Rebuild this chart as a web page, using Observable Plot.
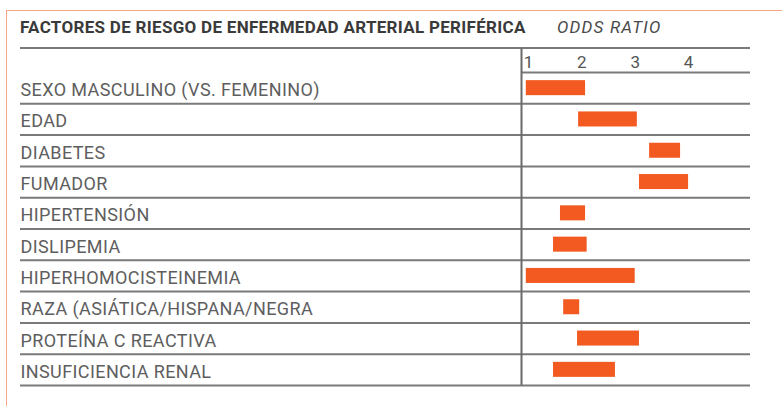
<!DOCTYPE html>
<html>
<head>
<meta charset="utf-8">
<script src="https://cdn.jsdelivr.net/npm/d3@7"></script>
<script src="https://cdn.jsdelivr.net/npm/@observablehq/plot@0.6"></script>
<style>
  html, body { margin: 0; padding: 0; background: #fff; }
  #wrap { position: relative; width: 782px; height: 406px; overflow: hidden; background: #fff; font-family: Roboto, "Noto Sans", sans-serif; }
  #border { position: absolute; left: 6px; top: 10px; width: 800px; height: 420px; border-top: 1.5px solid #f5a585; border-left: 1.5px solid #f5a585; }
  #title { position: absolute; left: 20px; top: 17px; font-weight: bold; font-size: 17px; line-height: 20px; color: #3a3a3a; white-space: nowrap; letter-spacing: 0.3px; }
  #odds { position: absolute; left: 557px; top: 17px; font-style: italic; font-size: 17px; line-height: 20px; color: #4a4a4a; white-space: nowrap; letter-spacing: 1.2px; }
  #hline { position: absolute; left: 20px; top: 47px; width: 730px; border-top: 2px solid #7a7a7a; }
  #chart { position: absolute; left: 0; top: 48px; }
</style>
</head>
<body>
<div id="wrap">
  <div id="border"></div>
  <div id="title">FACTORES DE RIESGO DE ENFERMEDAD ARTERIAL PERIFÉRICA</div>
  <div id="odds">ODDS RATIO</div>
  <div id="hline"></div>
  <div id="chart"></div>
</div>
<script>
const categories = [
  "SEXO MASCULINO (VS. FEMENINO)",
  "EDAD",
  "DIABETES",
  "FUMADOR",
  "HIPERTENSIÓN",
  "DISLIPEMIA",
  "HIPERHOMOCISTEINEMIA",
  "RAZA (ASIÁTICA/HISPANA/NEGRA",
  "PROTEÍNA C REACTIVA",
  "INSUFICIENCIA RENAL"
];
const lowValues  = [0.96, 1.94, 3.27, 3.08, 1.60, 1.47, 0.96, 1.66, 1.92, 1.47];
const highValues = [2.07, 3.04, 3.85, 4.00, 2.07, 2.10, 3.00, 1.96, 3.08, 2.63];
const tickValues = [1, 2, 3, 4];
const xDomain = [0.87, 5.16];

const rows = categories.map((c, i) => ({name: c, i, lo: lowValues[i], hi: highValues[i]}));
const boundaries = d3.range(1, categories.length + 1);

const chart = Plot.plot({
  width: 782,
  height: 358,
  marginTop: 24,
  marginBottom: 21,
  marginLeft: 20,
  marginRight: 32,
  style: {fontFamily: "Roboto, 'Noto Sans', sans-serif", background: "transparent", overflow: "visible"},
  x: {domain: xDomain, range: [521, 750]},
  y: {domain: [0, categories.length], reverse: true, axis: null},
  marks: [
    Plot.ruleY([0], {x1: xDomain[0], x2: xDomain[1], stroke: "#7a7a7a", strokeWidth: 2}),
    Plot.ruleY(boundaries, {stroke: "#7a7a7a", strokeWidth: 2}),
    Plot.ruleX([xDomain[0]], {stroke: "#6a6a6a", strokeWidth: 2, insetTop: -24}),
    Plot.rect(rows, {x1: "lo", x2: "hi", y1: d => d.i + 0.26, y2: d => d.i + 0.74, fill: "#f25a22"}),
    Plot.text(rows, {x: xDomain[0], y: d => d.i + 0.57, text: "name", textAnchor: "start", dx: -501, fontSize: 18, fill: "#5e5e5e"}),
    Plot.axisX({anchor: "top", ticks: tickValues, tickSize: 0, tickPadding: 5, fontSize: 17, color: "#555", tickFormat: d => String(d), label: null})
  ]
});
chart.querySelectorAll("g[aria-label='text'] text").forEach(t => t.style.letterSpacing = "0.4px");
document.getElementById("chart").appendChild(chart);
</script>
</body>
</html>
